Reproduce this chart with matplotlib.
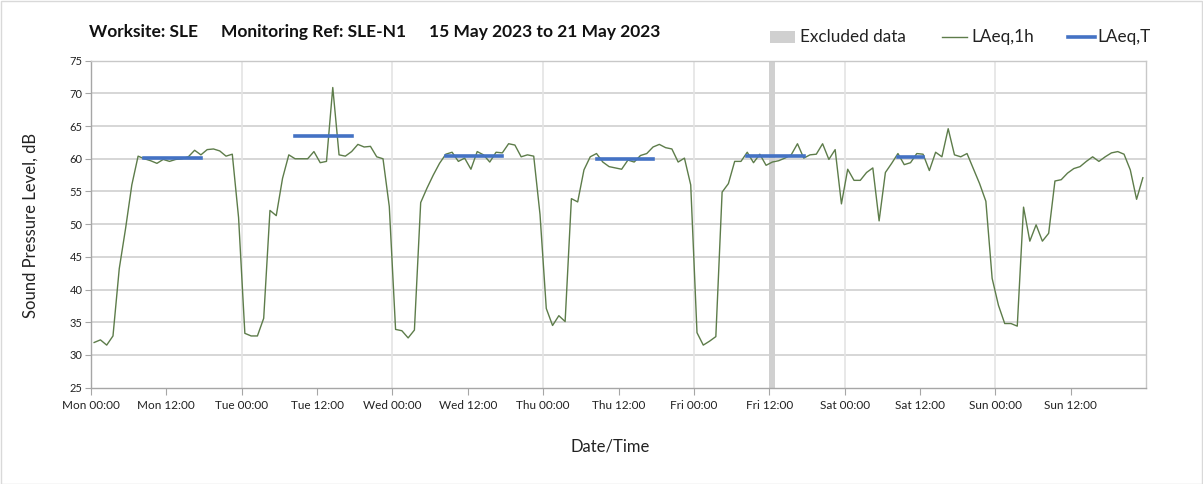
import matplotlib
matplotlib.use("Agg")
import matplotlib.pyplot as plt
from matplotlib.lines import Line2D
from matplotlib.patches import Rectangle

plt.rcParams['font.family'] = ['Lato', 'DejaVu Sans']

days = ["Mon", "Tue", "Wed", "Thu", "Fri", "Sat", "Sun"]

mon = [31.9, 32.3, 31.5, 32.9, 43.2, 49.3, 56.0, 60.4, 60.0, 59.7, 59.3, 59.9,
       59.6, 59.9, 60.0, 60.3, 61.3, 60.6, 61.4, 61.5, 61.2, 60.4, 60.7, 51.0]
tue = [33.3, 32.9, 32.9, 35.6, 52.1, 51.3, 57.0, 60.6, 60.0, 60.0, 60.0, 61.1,
       59.4, 59.6, 70.9, 60.6, 60.4, 61.1, 62.2, 61.8, 61.9, 60.3, 60.0, 52.7]
wed = [33.9, 33.7, 32.6, 33.8, 53.3, 55.5, 57.5, 59.3, 60.7, 61.0, 59.6, 60.1,
       58.4, 61.1, 60.6, 59.5, 61.0, 60.9, 62.3, 62.1, 60.3, 60.6, 60.4, 51.5]
thu = [37.1, 34.5, 36.0, 35.1, 53.9, 53.4, 58.3, 60.3, 60.8, 59.5, 58.8, 58.6,
       58.4, 59.8, 59.5, 60.5, 60.8, 61.8, 62.2, 61.7, 61.5, 59.5, 60.1, 56.0]
fri = [33.4, 31.5, 32.1, 32.8, 54.9, 56.2, 59.6, 59.6, 61.0, 59.4, 60.7, 59.0,
       59.5, 59.7, 60.1, 60.6, 62.3, 60.1, 60.6, 60.7, 62.3, 59.9, 61.4, 53.1]
sat = [58.4, 56.7, 56.7, 57.9, 58.6, 50.5, 57.9, 59.3, 60.8, 59.1, 59.4, 60.8,
       60.7, 58.2, 61.0, 60.3, 64.6, 60.6, 60.3, 60.8, 58.5, 56.2, 53.5, 41.7]
sun = [37.6, 34.8, 34.8, 34.4, 52.6, 47.4, 49.9, 47.4, 48.6, 56.6, 56.8, 57.8,
       58.5, 58.8, 59.6, 60.3, 59.6, 60.3, 60.9, 61.1, 60.7, 58.3, 53.8, 57.1]

# LAeq,T periods: day index, start hour, end hour (inclusive), level
laeqt_day = [0, 1, 2, 3, 4, 5]
laeqt_start = [8, 8, 8, 8, 8, 8]
laeqt_end = [17, 17, 17, 17, 17, 12]
laeqt_level = [60.1, 63.5, 60.4, 60.0, 60.4, 60.2]

# Excluded data: Fri 12:00-13:00 (hours from Mon 00:00)
excluded_start = [108]
excluded_end = [109]

yticks = [25, 30, 35, 40, 45, 50, 55, 60, 65, 70, 75]
xtick_labels = [f"{d} {t}" for d in days for t in ("00:00", "12:00")]

title_parts = ["Worksite: SLE", "Monitoring Ref: SLE-N1", "15 May 2023 to 21 May 2023"]
legend_labels = ["Excluded data", "LAeq,1h", "LAeq,T"]

GREEN = '#5d7c4a'
BLUE = '#4472c4'
GREY = '#d0d0d0'

W, H = 1203, 484
fig = plt.figure(figsize=(W / 100, H / 100), dpi=100)
fig.patches.append(Rectangle((0.5 / W, 0.5 / H), 1 - 1.5 / W, 1 - 1.5 / H,
                             transform=fig.transFigure, fill=False,
                             edgecolor='#d9d9d9', linewidth=1))

left, right, top, bottom = 91, 1146, 60.7, 387.6
ax = fig.add_axes([left / W, 1 - bottom / H, (right - left) / W, (bottom - top) / H])

levels = mon + tue + wed + thu + fri + sat + sun
xs = [h + 0.5 for h in range(len(levels))]

for s, e in zip(excluded_start, excluded_end):
    ax.axvspan(s, e, color=GREY, linewidth=0, zorder=1)

ax.plot(xs, levels, color=GREEN, linewidth=1.0, zorder=3)

for d, s, e, v in zip(laeqt_day, laeqt_start, laeqt_end, laeqt_level):
    ax.plot([d * 24 + s + 0.5, d * 24 + e + 0.5], [v, v], color=BLUE,
            linewidth=2.6, solid_capstyle='projecting', zorder=4)

ax.set_xlim(0, 168)
ax.set_ylim(25, 75)
ax.set_yticks(yticks)
ax.set_xticks(range(0, 168, 12))
ax.set_xticklabels(xtick_labels)

for v in yticks[1:-1]:
    ax.axhline(v, color=GREY, linewidth=1.2, zorder=0)
for d in range(1, 7):
    ax.axvline(d * 24, color='#e4e4e4', linewidth=1.2, zorder=0)

for sp in ['left', 'bottom']:
    ax.spines[sp].set_color('#a6a6a6')
for sp in ['top', 'right']:
    ax.spines[sp].set_color('#c8c8c8')
for sp in ax.spines.values():
    sp.set_linewidth(1.0)

ax.tick_params(axis='x', length=5, color='#a6a6a6', labelsize=8.5, pad=4,
               labelcolor='#222222')
ax.tick_params(axis='y', length=4, color='#a6a6a6', labelsize=8, pad=2,
               labelcolor='#222222')

fig.text(610 / W, 1 - 447 / H, "Date/Time", fontsize=12, ha='center', va='center',
         color='#222222')
fig.text(31 / W, 1 - 225 / H, "Sound Pressure Level, dB", fontsize=12, ha='center',
         va='center', rotation=90, color='#222222')

for xpos, part in zip([89, 221, 429], title_parts):
    fig.text(xpos / W, 1 - 32 / H, part, fontsize=12.5, fontweight='bold',
             va='center', ha='left', color='#111111')

# legend, drawn manually
ly = 1 - 37 / H
fig.patches.append(Rectangle((770 / W, 1 - 43 / H), 25 / W, 12 / H,
                             transform=fig.transFigure, facecolor=GREY,
                             edgecolor='none'))
fig.lines.append(Line2D([942 / W, 967 / W], [ly, ly], transform=fig.transFigure,
                        color=GREEN, linewidth=1.0))
fig.lines.append(Line2D([1068 / W, 1095 / W], [ly, ly], transform=fig.transFigure,
                        color=BLUE, linewidth=2.6))
for xpos, lab in zip([800, 971, 1097], legend_labels):
    fig.text(xpos / W, ly, lab, fontsize=12.3, va='center', ha='left',
             color='#222222')

fig.savefig("out.png", dpi=100)
